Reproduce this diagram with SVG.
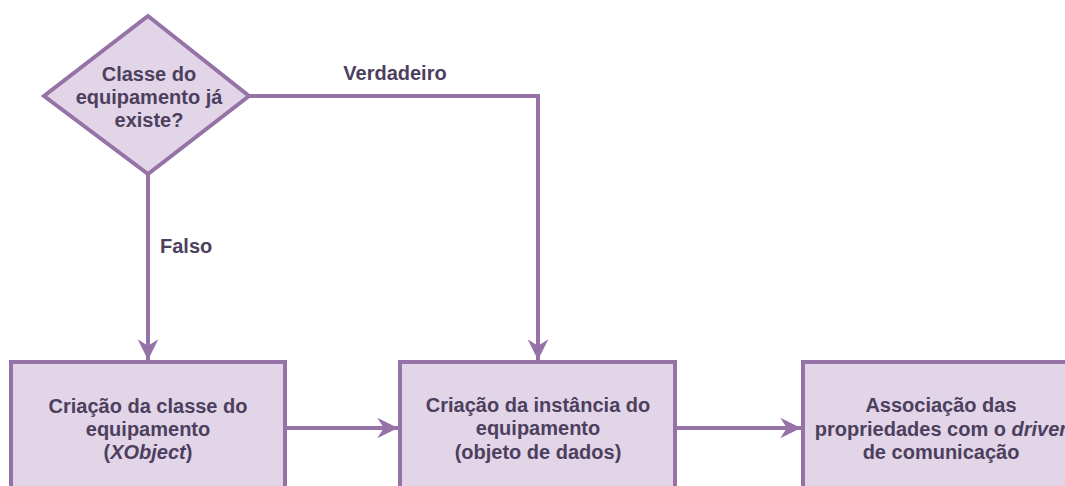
<svg xmlns="http://www.w3.org/2000/svg" width="1065" height="486" viewBox="0 0 1065 486">
<style>
.shape{fill:#e1d5e7;stroke:#9673a6;stroke-width:4}
.edge{fill:none;stroke:#9673a6;stroke-width:4}
text{font-family:"Liberation Sans",Arial,sans-serif;font-weight:bold;font-size:20px;fill:#4d3f5e}
.c{text-anchor:middle}
</style>
<defs>
<marker id="arr" markerUnits="userSpaceOnUse" markerWidth="24" markerHeight="24" viewBox="-20 -10 22 20" refX="0" refY="0" orient="auto">
<path d="M0,0 L-19,-9.5 L-13,0 L-19,9.5 Z" fill="#9673a6"/>
</marker>
</defs>
<rect width="1065" height="486" fill="#ffffff"/>
<g id="connectors">
<path class="edge" d="M148,174 L148,360" marker-end="url(#arr)"/>
<path class="edge" d="M249,96 L538,96 L538,360" marker-end="url(#arr)"/>
<path class="edge" d="M285,428 L398,428" marker-end="url(#arr)"/>
<path class="edge" d="M675,428 L801,428" marker-end="url(#arr)"/>
<text x="395" y="80" class="c">Verdadeiro</text>
<text x="160" y="253">Falso</text>
</g>
<g id="decision">
<polygon class="shape" points="148,16 249,96 148,174 44,96"/>
<text x="149" y="81" class="c">Classe do</text>
<text x="149" y="104" class="c">equipamento já</text>
<text x="149" y="127" class="c">existe?</text>
</g>
<g id="box1">
<rect class="shape" x="11" y="362" width="274" height="140"/>
<text x="148" y="413" class="c">Criação da classe do</text>
<text x="148" y="436" class="c">equipamento</text>
<text x="148" y="459" class="c">(<tspan font-style="italic">XObject</tspan>)</text>
</g>
<g id="box2">
<rect class="shape" x="400" y="362" width="275" height="140"/>
<text x="538" y="412" class="c">Criação da instância do</text>
<text x="538" y="435" class="c">equipamento</text>
<text x="538" y="459" class="c">(objeto de dados)</text>
</g>
<g id="box3">
<rect class="shape" x="803" y="362" width="275" height="140"/>
<text x="941" y="412" class="c">Associação das</text>
<text x="941" y="436" class="c">propriedades com o <tspan font-style="italic">driver</tspan></text>
<text x="941" y="459" class="c">de comunicação</text>
</g>
</svg>
